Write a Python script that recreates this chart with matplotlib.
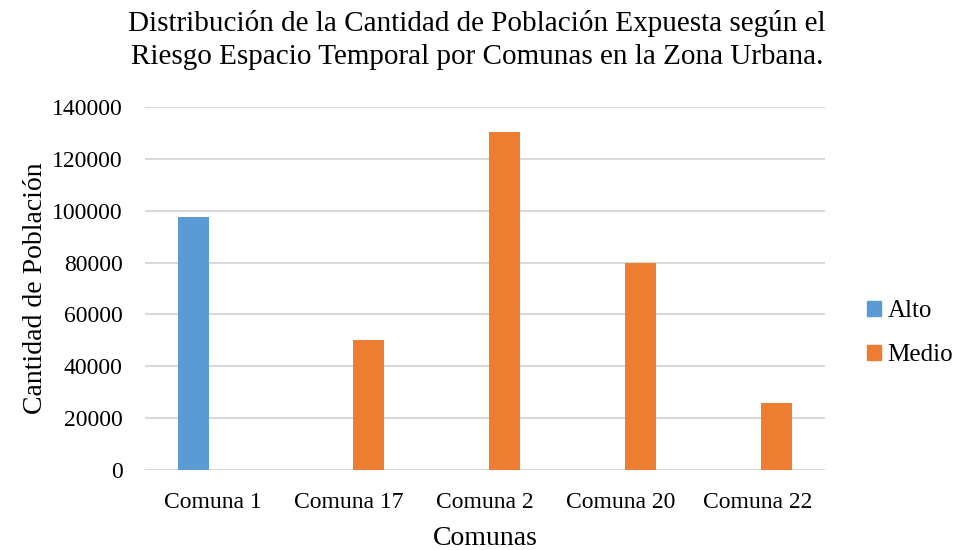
import matplotlib.pyplot as plt
import numpy as np
from matplotlib.patches import Patch

plt.rcParams['font.family'] = ['Liberation Serif', 'DejaVu Serif']

comunas = ['Comuna 1', 'Comuna 17', 'Comuna 2', 'Comuna 20', 'Comuna 22']
alto = [97500, 0, 0, 0, 0]
medio = [0, 50300, 130300, 79800, 25800]
series_names = ['Alto', 'Medio']
colors = ['#5B9BD5', '#ED7D31']

fig = plt.figure(figsize=(9.54, 5.5), dpi=100)
ax = fig.add_axes([0.152, 0.1455, 0.713, 0.66])

x = np.arange(len(comunas))
w = 0.228
off = 0.1415
ax.bar(x - off, alto, width=w, color=colors[0], zorder=3)
ax.bar(x + off, medio, width=w, color=colors[1], zorder=3)

ax.set_xlim(-0.5, len(comunas) - 0.5)
ax.set_ylim(0, 140000)
ax.set_yticks(np.arange(0, 140001, 20000))
ax.set_xticks(x)
ax.set_xticklabels(comunas, fontsize=17)
ax.tick_params(axis='y', labelsize=17, length=0, pad=16)
ax.tick_params(axis='x', length=0, pad=16)
ax.grid(axis='y', color='#D9D9D9', linewidth=1.5, zorder=0)
for s in ax.spines.values():
    s.set_visible(False)

ax.set_xlabel('Comunas', fontsize=20, labelpad=9)
ax.set_ylabel('Cantidad de Población', fontsize=20, labelpad=3)

fig.text(0.5, 0.927, 'Distribución de la Cantidad de Población Expuesta según el\n'
         'Riesgo Espacio Temporal por Comunas en la Zona Urbana.',
         ha='center', va='center', fontsize=21, linespacing=1.33)

handles = [Patch(color=c, label=n) for c, n in zip(colors, series_names)]
fig.legend(handles=handles, loc='center left', bbox_to_anchor=(0.909, 0.3945),
           frameon=False, fontsize=18, handlelength=0.56, handleheight=0.56,
           handletextpad=0.25, labelspacing=0.88, borderpad=0, borderaxespad=0)

fig.savefig('out.png', dpi=100)
